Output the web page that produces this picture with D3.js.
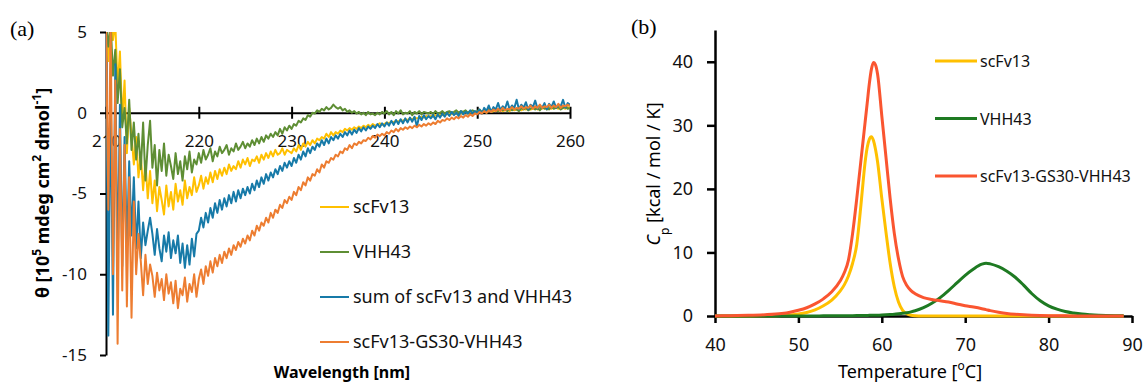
<!DOCTYPE html>
<html>
<head>
<meta charset="utf-8">
<script src="https://cdn.jsdelivr.net/npm/d3@7"></script>
<style>
  html, body { margin: 0; padding: 0; background: #fff; }
  svg { display: block; font-family: "Noto Sans", "Open Sans", sans-serif; }
</style>
</head>
<body>
<svg id="chart" width="1145" height="383"></svg>
<script>
// ─── (a) CD spectra, sampled every 0.25 nm from 210 to 260 nm ───────────────
const WL_START = 210;
const WL_STEP = 0.25;

const scFv13CD = [
  5.6, 3.2, 5.6, 4.5, 5.6, 1.5, 3.8, -0.5, 2.0, -2.5, 0.3, -1.4, -3.2, -1.5, -4.0, -2.6, -4.8, -3.0, -5.3, -3.6,
  -5.6, -4.2, -6.1, -4.6, -5.4, -6.3, -4.5, -5.8, -4.9, -6.0, -4.4, -5.5, -4.8, -5.7, -4.2, -5.3, -4.6, -5.1, -4.0, -4.9,
  -4.5, -3.9, -4.7, -4.0, -4.4, -3.7, -4.3, -3.6, -4.1, -3.5, -3.9, -3.4, -3.8, -3.2, -3.6, -3.3, -3.5, -3.0, -3.4, -2.9,
  -3.2, -2.8, -3.3, -2.9, -3.0, -2.7, -3.1, -2.6, -2.9, -2.5, -2.8, -2.4, -2.7, -2.3, -2.6, -2.5, -2.2, -2.6, -2.3, -2.4,
  -2.5, -2.2, -2.4, -2.0, -2.3, -1.9, -2.1, -1.8, -2.0, -1.7, -1.9, -1.6, -1.7, -1.5, -1.6, -1.3, -1.5, -1.2, -1.4, -1.2,
  -1.3, -1.1, -1.2, -1.0, -1.1, -0.95, -1.05, -0.9, -1.0, -0.85, -0.95, -0.8, -0.9, -0.75, -0.85, -0.7, -0.8, -0.75, -0.65, -0.75,
  -0.7, -0.6, -0.65, -0.55, -0.6, -0.5, -0.55, -0.45, -0.5, -0.4, -0.45, -0.35, -0.4, -0.3, -0.35, -0.3, -0.25, -0.3, -0.2, -0.25,
  -0.2, -0.25, -0.15, -0.2, -0.1, -0.15, -0.05, -0.1, -0.05, -0.1, 0.0, -0.05, 0.05, -0.05, 0.0, 0.05, -0.05, 0.05, 0.0, 0.05,
  0.0, 0.1, 0.05, 0.1, 0.0, 0.15, 0.05, 0.1, 0.15, 0.1, 0.2, 0.1, 0.15, 0.2, 0.1, 0.25, 0.15, 0.2, 0.25, 0.15,
  0.25, 0.2, 0.3, 0.2, 0.25, 0.3, 0.2, 0.3, 0.25, 0.35, 0.2, 0.3, 0.25, 0.35, 0.3, 0.25, 0.35, 0.3, 0.25, 0.35,
  0.3
];

const vhh43CD = [
  5.6, 4.1, 5.6, 2.3, 3.9, 0.6, 2.7, -0.9, 0.3, -1.9, 0.8, -2.3, -0.6, -2.9, -1.3, -3.5, -0.6, -4.2, -2.0, -0.5,
  -3.4, -2.0, -4.5, -2.3, -3.6, -1.9, -3.9, -2.6, -3.3, -4.1, -2.5, -3.8, -3.0, -4.2, -2.7, -3.5, -2.4, -3.7, -2.9, -3.2,
  -2.5, -3.1, -2.3, -2.9, -2.6, -2.2, -3.0, -2.4, -2.7, -2.1, -2.5, -2.3, -2.0, -2.6, -2.2, -2.4, -1.9, -2.3, -2.1, -1.8,
  -2.2, -1.9, -2.1, -1.7, -2.0, -1.6, -1.9, -1.5, -1.8, -1.4, -1.6, -1.3, -1.5, -1.2, -1.4, -1.0, -1.3, -0.9, -1.1, -0.8,
  -1.0, -0.7, -0.8, -0.5, -0.6, -0.35, -0.45, -0.15, -0.25, 0.0, -0.05, 0.15, 0.05, 0.25, 0.15, 0.35, 0.2, 0.3, 0.5, 0.35,
  0.25, 0.35, 0.15, 0.25, 0.05, 0.15, 0.0, 0.1, -0.05, 0.05, -0.1, 0.0, -0.15, 0.05, -0.1, -0.05, -0.15, 0.0, -0.1, 0.05,
  -0.05, 0.1, -0.1, 0.05, -0.15, 0.1, -0.05, 0.15, -0.1, 0.0, -0.05, 0.1, -0.15, 0.05, -0.05, 0.1, -0.1, 0.05, 0.0, -0.05,
  0.05, -0.1, 0.1, -0.05, 0.0, 0.1, -0.05, 0.05, 0.1, 0.0, 0.05, 0.15, 0.0, 0.1, 0.05, 0.15, 0.0, 0.1, 0.15, 0.05,
  0.1, 0.2, 0.05, 0.15, 0.1, 0.25, 0.05, 0.2, 0.15, 0.1, 0.25, 0.15, 0.2, 0.1, 0.3, 0.15, 0.25, 0.2, 0.1, 0.3,
  0.2, 0.3, 0.15, 0.25, 0.35, 0.2, 0.3, 0.15, 0.35, 0.25, 0.3, 0.2, 0.4, 0.25, 0.3, 0.35, 0.2, 0.3, 0.4, 0.25,
  0.3
];

const sumCD = [
  5.6, -13.8, 2.0, -12.5, 3.0, -10.0, 0.5, -9.5, -1.5, -8.5, -3.0, -7.6, -4.0, -8.4, -5.5, -9.0, -6.8, -8.2, -7.3, -6.5,
  -7.5, -8.8, -7.2, -8.4, -9.2, -7.6, -8.6, -7.4, -9.0, -7.9, -8.7, -7.6, -9.3, -8.1, -9.6, -8.2, -9.4, -7.8, -8.9, -7.5,
  -7.3, -6.5, -7.1, -6.2, -6.8, -5.9, -6.5, -5.6, -6.2, -5.4, -6.0, -5.3, -5.8, -5.1, -5.6, -4.9, -5.5, -4.8, -5.3, -4.7,
  -5.1, -4.6, -5.0, -4.4, -4.8, -4.2, -4.6, -4.0, -4.4, -3.8, -4.2, -3.7, -4.0, -3.5, -3.8, -3.3, -3.6, -3.1, -3.4, -3.0,
  -3.3, -2.8, -3.1, -2.6, -2.9, -2.4, -2.7, -2.2, -2.5, -2.1, -2.3, -1.9, -2.1, -1.7, -2.0, -1.6, -1.9, -1.5, -1.7, -1.4,
  -1.6, -1.3, -1.5, -1.2, -1.4, -1.1, -1.35, -1.05, -1.25, -0.95, -1.15, -0.9, -1.1, -0.85, -1.0, -0.8, -0.95, -0.7, -0.9, -0.65,
  -0.85, -0.6, -0.8, -0.5, -0.75, -0.45, -0.7, -0.4, -0.65, -0.35, -0.6, -0.3, -0.55, -0.25, -0.85, -0.2, -0.45, -0.15, -0.4, -0.2,
  -0.35, -0.15, -0.4, -0.1, -0.3, -0.05, -0.25, 0.0, -0.2, 0.05, -0.15, 0.0, -0.2, 0.1, -0.1, 0.05, -0.05, 0.15, -0.05, 0.1,
  0.0, 0.2, -0.05, 0.3, 0.1, 0.45, 0.05, 0.35, 0.2, 0.6, 0.15, 0.4, 0.25, 0.7, 0.2, 0.45, 0.3, 0.8, 0.2, 0.5,
  0.3, 0.65, 0.2, 0.5, 0.35, 0.75, 0.25, 0.45, 0.3, 0.6, 0.2, 0.55, 0.35, 0.7, 0.3, 0.5, 0.4, 0.8, 0.3, 0.6,
  0.5
];

const fusionCD = [
  5.6, -6.0, 5.6, -10.0, 2.0, -14.3, -1.0, -11.0, -2.0, -12.0, -4.0, -12.7, -5.5, -10.0, -7.5, -9.2, -11.3, -8.8, -10.6, -9.4,
  -10.1, -11.4, -9.9, -11.0, -10.3, -11.6, -10.0, -11.2, -10.5, -11.8, -10.4, -12.1, -10.9, -11.3, -10.2, -11.7, -10.6, -11.1, -10.0, -11.4,
  -10.3, -9.7, -10.6, -9.5, -10.1, -9.2, -9.9, -9.0, -9.5, -8.8, -9.3, -8.6, -9.0, -8.4, -8.8, -8.2, -8.5, -8.0, -8.3, -7.8,
  -8.1, -7.6, -7.9, -7.3, -7.6, -7.0, -7.3, -6.8, -7.0, -6.5, -6.8, -6.2, -6.5, -6.0, -6.2, -5.7, -5.9, -5.4, -5.6, -5.2,
  -5.4, -4.9, -5.1, -4.6, -4.8, -4.3, -4.5, -4.0, -4.2, -3.8, -3.9, -3.5, -3.7, -3.2, -3.4, -3.0, -3.1, -2.8, -2.9, -2.6,
  -2.7, -2.4, -2.5, -2.2, -2.3, -2.0, -2.2, -1.9, -2.0, -1.8, -1.9, -1.7, -1.75, -1.55, -1.65, -1.45, -1.55, -1.35, -1.45, -1.3,
  -1.4, -1.2, -1.3, -1.1, -1.2, -1.0, -1.15, -0.95, -1.05, -0.9, -1.0, -0.85, -0.95, -0.8, -0.9, -0.75, -0.85, -0.7, -0.8, -0.65,
  -0.75, -0.6, -0.7, -0.5, -0.6, -0.45, -0.5, -0.35, -0.45, -0.3, -0.4, -0.25, -0.35, -0.2, -0.3, -0.15, -0.25, -0.1, -0.2, -0.05,
  -0.1, 0.05, -0.05, 0.1, 0.0, 0.15, 0.05, 0.2, 0.1, 0.25, 0.1, 0.3, 0.15, 0.25, 0.2, 0.35, 0.2, 0.3, 0.25, 0.4,
  0.25, 0.35, 0.3, 0.45, 0.25, 0.4, 0.3, 0.5, 0.3, 0.4, 0.35, 0.5, 0.3, 0.45, 0.35, 0.55, 0.3, 0.45, 0.4, 0.5,
  0.4
];

const cdNames = ['scFv13', 'VHH43', 'sum of scFv13 and VHH43', 'scFv13-GS30-VHH43'];
const cdColors = ['#FFC000', '#5E8E34', '#177AA8', '#ED7D31'];
const cdTicksX = [210, 220, 230, 240, 250, 260];
const cdTicksY = [-15, -10, -5, 0, 5];

// ─── (b) DSC thermograms ─────────────────────────────────────────────────────
const temperature = [
  40, 42, 44, 46, 48, 49, 50, 51, 52, 53, 54, 55, 55.5, 56, 56.5, 57, 57.5, 57.75, 58, 58.25,
  58.5, 58.75, 59, 59.25, 59.5, 60, 60.5, 61, 61.5, 62, 62.5, 63, 63.5, 64, 65, 66, 67, 68, 69, 70,
  71, 72, 72.5, 73, 74, 75, 76, 77, 78, 79, 80, 81, 82, 83, 84, 85, 86, 88, 89
];
const scFv13Cp = [
  0, 0, 0.01, 0.03, 0.08, 0.15, 0.3, 0.55, 0.95, 1.6, 2.5, 3.9, 4.9, 6.3, 8.3, 11.3, 17.5, 21, 24.2, 26.5,
  27.8, 28.2, 27.6, 26.2, 24.2, 18.5, 13.2, 8.3, 4.6, 2.2, 0.9, 0.35, 0.12, 0.05, 0.01, 0, 0, 0, 0, 0,
  0, 0, 0, 0, 0, 0, 0, 0, 0, 0, 0, 0, 0, 0, 0, 0, 0, 0, 0
];
const vhh43Cp = [
  0, 0, 0, 0, 0, 0, 0.01, 0.01, 0.01, 0.02, 0.02, 0.03, 0.03, 0.04, 0.05, 0.06, 0.07, 0.07, 0.08, 0.09,
  0.1, 0.1, 0.11, 0.12, 0.13, 0.15, 0.18, 0.22, 0.27, 0.34, 0.42, 0.52, 0.65, 0.82, 1.3, 2.0, 2.9, 4.0, 5.2, 6.4,
  7.4, 8.15, 8.3, 8.2, 7.75, 7.05, 6.1, 4.85, 3.5, 2.4, 1.6, 1.07, 0.7, 0.47, 0.3, 0.2, 0.13, 0.05, 0.03
];
const fusionCp = [
  0, 0.05, 0.1, 0.2, 0.4, 0.6, 0.9, 1.3, 1.9, 2.7, 3.8, 5.5, 6.8, 8.8, 13, 18.5, 24.5, 27.5, 30.5, 33.5,
  36.5, 38.8, 39.9, 39.5, 38.0, 31.5, 25, 18.5, 13, 9.0, 6.2, 4.8, 4.0, 3.5, 2.9, 2.6, 2.4, 2.2, 1.9, 1.6,
  1.4, 1.15, 1.0, 0.85, 0.6, 0.4, 0.27, 0.18, 0.12, 0.08, 0.05, 0.03, 0.02, 0.01, 0, 0, 0, 0, 0
];

const dscNames = ['scFv13', 'VHH43', 'scFv13-GS30-VHH43'];
const dscColors = ['#FFC000', '#1E7A22', '#FA5530'];
const dscTicksX = [40, 50, 60, 70, 80, 90];
const dscTicksY = [0, 10, 20, 30, 40];

// ─────────────────────────────────────────────────────────────────────────────

const svg = d3.select('#chart');

function styleAxis(g, width, size) {
  g.attr('font-family', null).attr('font-size', null);
  g.select('.domain').attr('stroke', '#000').attr('stroke-width', width);
  g.selectAll('.tick line').attr('stroke', '#000').attr('stroke-width', width);
  g.selectAll('.tick text').attr('fill', '#111').attr('font-size', size);
}

function drawCD() {
  const x = d3.scaleLinear().domain([210, 260]).range([106, 570]);
  const y = d3.scaleLinear().domain([-15, 5]).range([355, 32]);

  svg.append('clipPath').attr('id', 'clip-a')
    .append('rect')
    .attr('x', x(210)).attr('y', y(5))
    .attr('width', x(260) - x(210)).attr('height', y(-15) - y(5));

  // y axis (plain hyphen minus, as in the original)
  svg.append('g')
    .attr('transform', `translate(${x(210)},0)`)
    .call(d3.axisLeft(y).tickValues(cdTicksY).tickFormat(d => String(d))
      .tickSize(6).tickSizeOuter(0).tickPadding(13))
    .call(g => styleAxis(g, 2, 17));

  // x axis along θ = 0 with ticks crossing the line
  svg.append('g')
    .attr('transform', `translate(0,${y(0)})`)
    .call(d3.axisBottom(x).tickValues(cdTicksX).tickSize(6).tickSizeOuter(0))
    .call(g => styleAxis(g, 2, 17))
    .call(g => g.selectAll('.tick line').attr('y1', -6))
    .call(g => g.selectAll('.tick text').attr('y', 34).attr('dy', 0));

  const series = [scFv13CD, vhh43CD, sumCD, fusionCD];
  const line = d3.line()
    .x((d, i) => x(WL_START + i * WL_STEP))
    .y(d => y(d));

  svg.append('g').attr('clip-path', 'url(#clip-a)')
    .selectAll('path')
    .data(series)
    .join('path')
    .attr('fill', 'none')
    .attr('stroke', (d, i) => cdColors[i])
    .attr('stroke-width', 2)
    .attr('stroke-linejoin', 'round')
    .attr('d', line);

  // legend
  const legend = svg.append('g')
    .selectAll('g')
    .data(cdNames)
    .join('g')
    .attr('transform', (d, i) => `translate(320,${207 + i * 45})`);
  legend.append('line')
    .attr('x2', 29)
    .attr('stroke', (d, i) => cdColors[i])
    .attr('stroke-width', 2);
  legend.append('text')
    .attr('x', 33).attr('y', 6)
    .attr('font-size', 18)
    .attr('fill', '#111')
    .text(d => d);

  // titles
  svg.append('text')
    .attr('x', 342).attr('y', 378)
    .attr('text-anchor', 'middle')
    .attr('font-size', 16).attr('font-weight', 'bold')
    .text('Wavelength [nm]');

  const yt = svg.append('text')
    .attr('transform', 'translate(49,193) rotate(-90)')
    .attr('text-anchor', 'middle')
    .attr('font-size', 18).attr('font-weight', 'bold');
  yt.append('tspan').text('θ [10');
  yt.append('tspan').attr('baseline-shift', 'super').attr('font-size', 12).text('5');
  yt.append('tspan').text(' mdeg cm');
  yt.append('tspan').attr('baseline-shift', 'super').attr('font-size', 12).text('2');
  yt.append('tspan').text(' dmol');
  yt.append('tspan').attr('baseline-shift', 'super').attr('font-size', 12).text('-1');
  yt.append('tspan').text(']');

  svg.append('text')
    .attr('x', 10).attr('y', 36)
    .attr('font-family', '"Liberation Serif", "DejaVu Serif", serif')
    .attr('font-size', 22)
    .text('(a)');
}

function drawDSC() {
  const x = d3.scaleLinear().domain([40, 90]).range([715, 1132]);
  const y = d3.scaleLinear().domain([0, 45]).range([316, 30]);

  svg.append('g')
    .attr('transform', `translate(${x(40)},0)`)
    .call(d3.axisLeft(y).tickValues(dscTicksY).tickSize(8).tickSizeOuter(0).tickPadding(14))
    .call(g => styleAxis(g, 2.5, 18));

  svg.append('g')
    .attr('transform', `translate(0,${y(0)})`)
    .call(d3.axisBottom(x).tickValues(dscTicksX).tickSize(7).tickSizeOuter(0))
    .call(g => styleAxis(g, 2.5, 18))
    .call(g => g.selectAll('.tick text').attr('y', 35).attr('dy', 0));

  const series = [scFv13Cp, vhh43Cp, fusionCp];
  const line = d3.line()
    .x((d, i) => x(temperature[i]))
    .y(d => y(d))
    .curve(d3.curveMonotoneX);

  svg.append('g')
    .selectAll('path')
    .data(series)
    .join('path')
    .attr('fill', 'none')
    .attr('stroke', (d, i) => dscColors[i])
    .attr('stroke-width', 3)
    .attr('stroke-linejoin', 'round')
    .attr('d', line);

  const legend = svg.append('g')
    .selectAll('g')
    .data(dscNames)
    .join('g')
    .attr('transform', (d, i) => `translate(935,${61 + i * 57.5})`);
  legend.append('line')
    .attr('x2', 42)
    .attr('stroke', (d, i) => dscColors[i])
    .attr('stroke-width', 3);
  legend.append('text')
    .attr('x', 45).attr('y', 6)
    .attr('font-size', 16)
    .attr('fill', '#111')
    .text(d => d);

  const xt = svg.append('text')
    .attr('x', 910).attr('y', 378)
    .attr('text-anchor', 'middle')
    .attr('font-size', 18);
  xt.append('tspan').text('Temperature [');
  xt.append('tspan').attr('baseline-shift', 'super').attr('font-size', 12).text('o');
  xt.append('tspan').text('C]');

  const yt = svg.append('text')
    .attr('transform', 'translate(660,174) rotate(-90)')
    .attr('text-anchor', 'middle')
    .attr('font-size', 18);
  yt.append('tspan').attr('font-style', 'italic').text('C');
  yt.append('tspan').attr('baseline-shift', 'sub').attr('font-size', 12).text('p');
  yt.append('tspan').text(' [kcal / mol / K]');

  svg.append('text')
    .attr('x', 631).attr('y', 34)
    .attr('font-family', '"Liberation Serif", "DejaVu Serif", serif')
    .attr('font-size', 22)
    .text('(b)');
}

drawCD();
drawDSC();
</script>
</body>
</html>
